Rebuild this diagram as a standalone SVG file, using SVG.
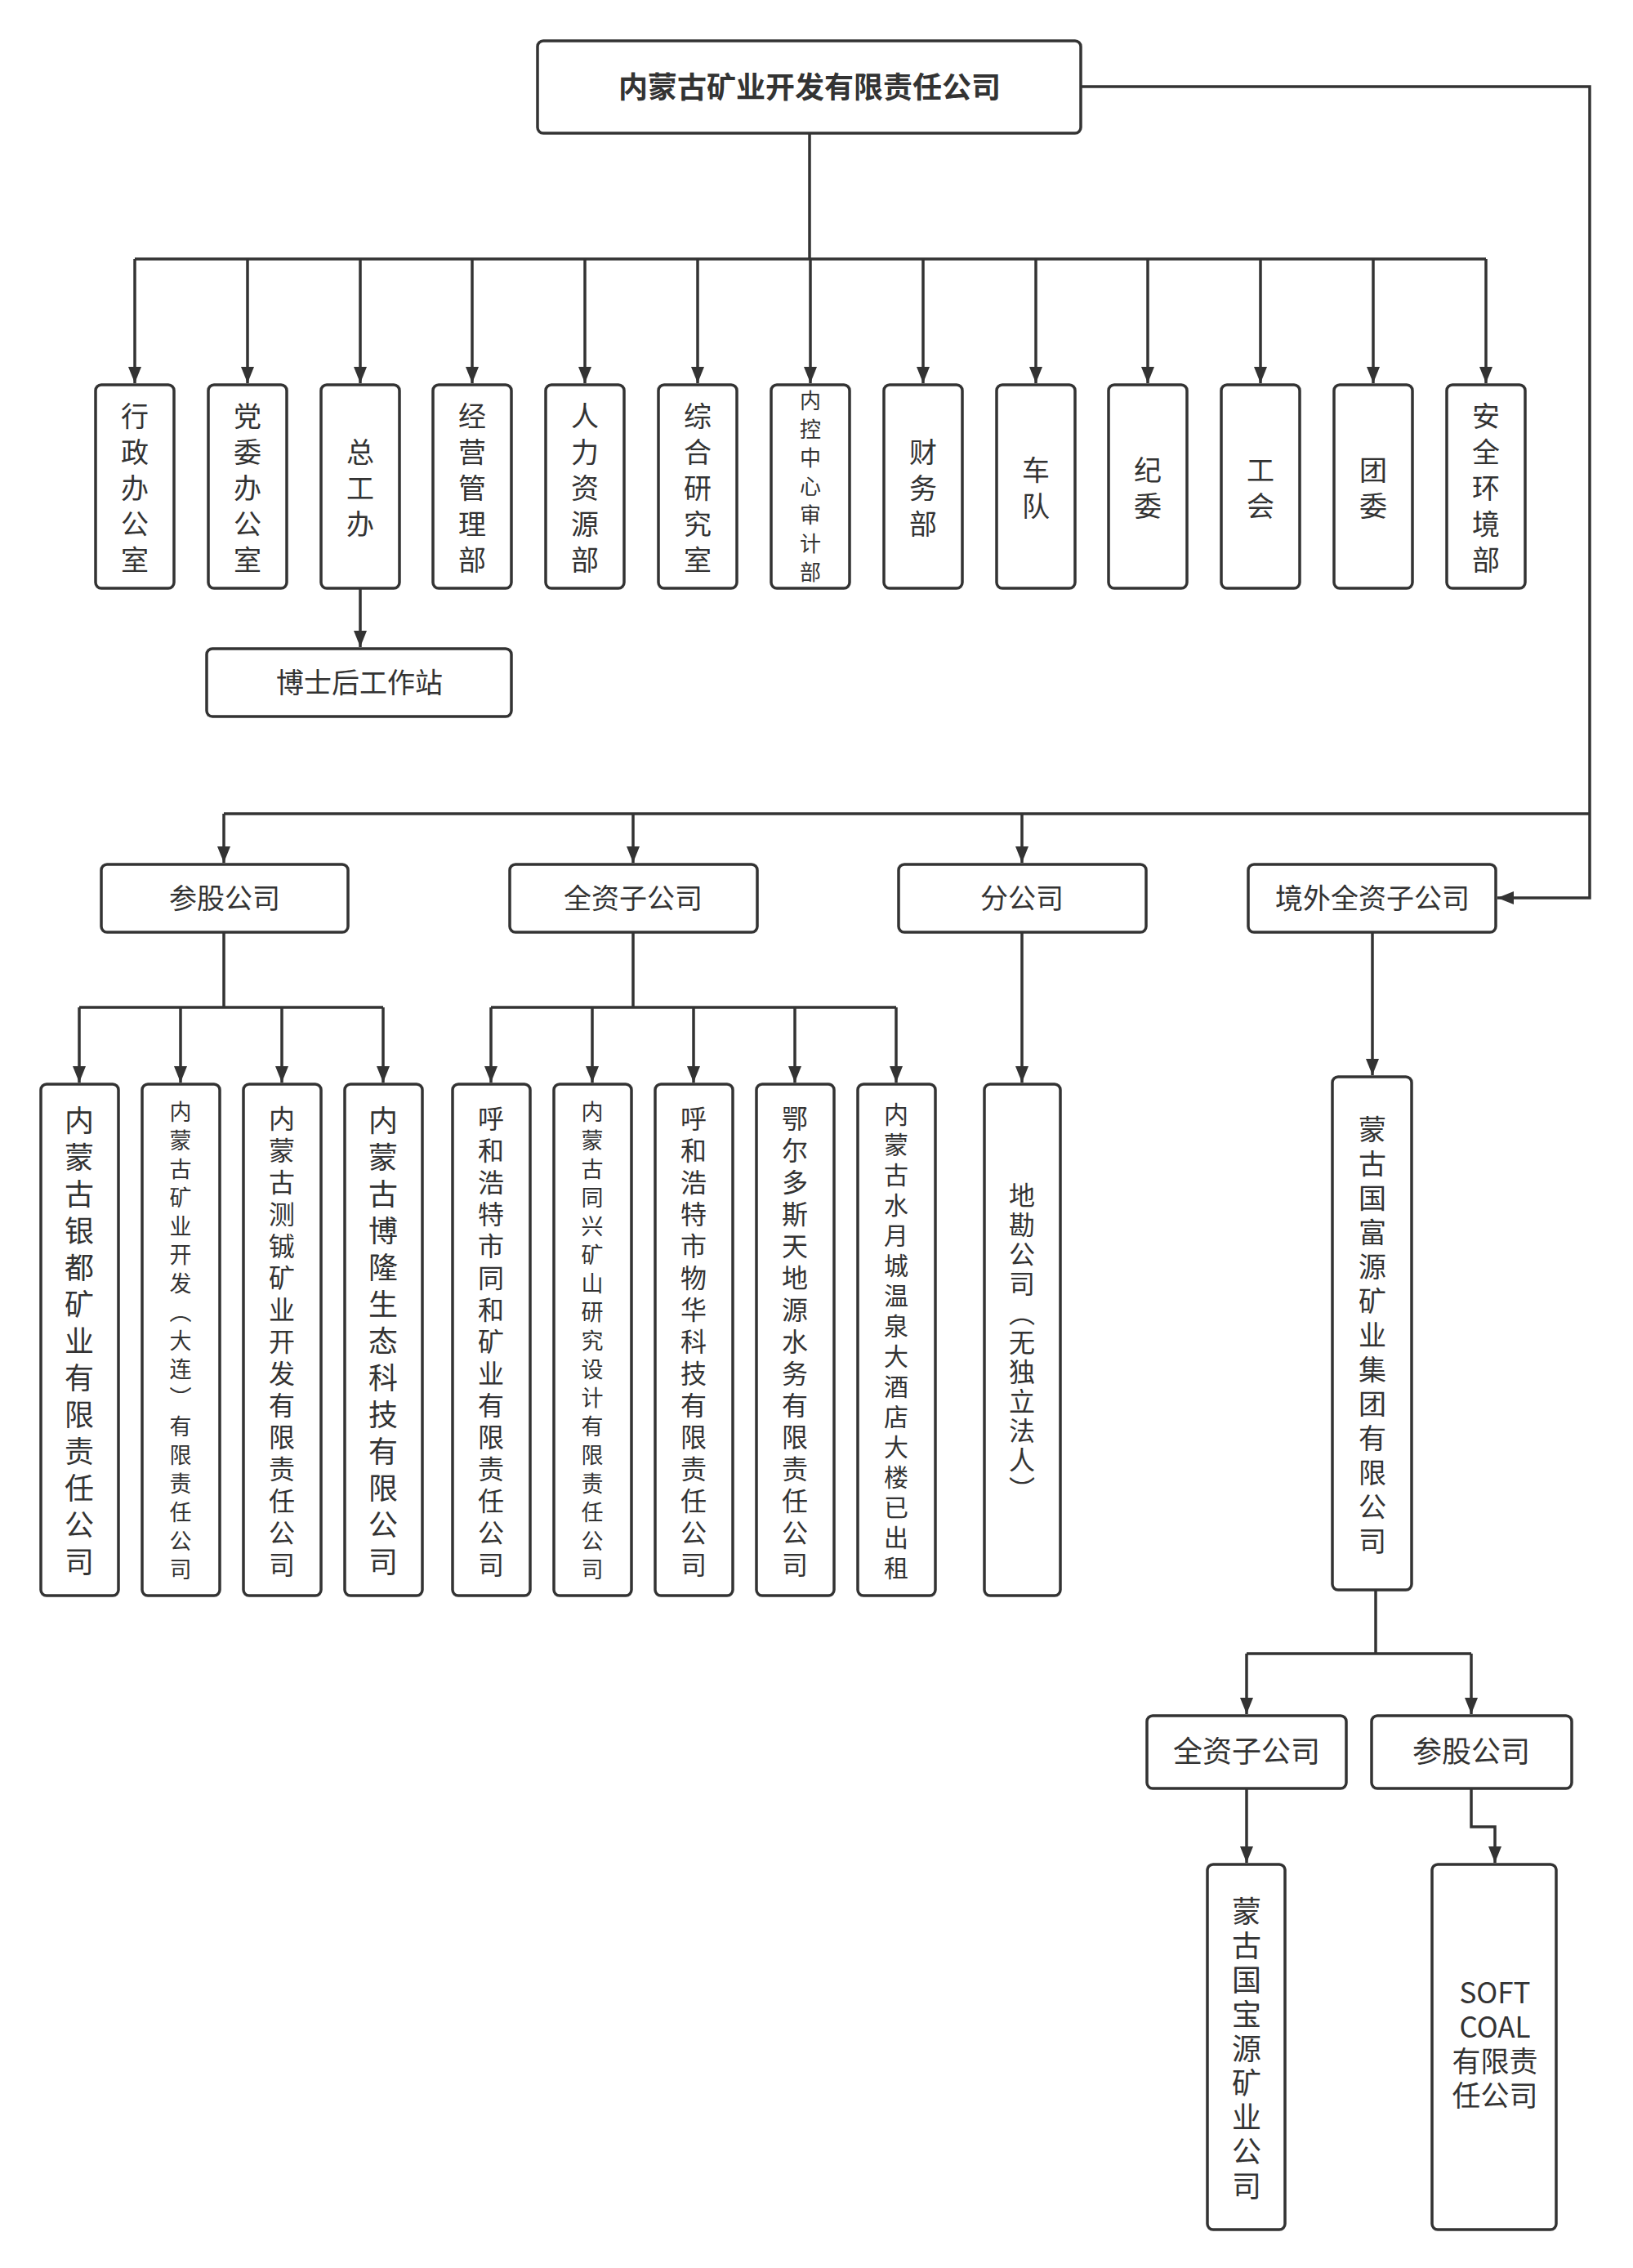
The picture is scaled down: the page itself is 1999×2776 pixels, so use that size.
<svg xmlns="http://www.w3.org/2000/svg" width="1999" height="2776" viewBox="0 0 1999 2776">
<style>
.b{fill:#fff;stroke:#333;stroke-width:3.5}
.t{font-family:"Noto Sans CJK SC","Noto Sans",sans-serif;fill:#333;text-anchor:middle}
.v{writing-mode:vertical-rl}
.c{fill:none;stroke:#333;stroke-width:3.5}
.r{fill:none;stroke:#333;stroke-width:3.5;marker-end:url(#m)}
</style>
<defs>
<marker id="m" viewBox="0 0 10 10" refX="10" refY="5" markerWidth="20" markerHeight="20" orient="auto" markerUnits="userSpaceOnUse"><path d="M0,1L10,5L0,9z" fill="#333"/></marker></defs>
<g id="connectors">
<path class="r" d="M1323,106H1946V1099H1833"/>
<path class="c" d="M991,163V317"/>
<path class="c" d="M165,317H1819"/>
<path class="r" d="M165,317V469"/><path class="r" d="M303,317V469"/><path class="r" d="M441,317V469"/><path class="r" d="M578,317V469"/><path class="r" d="M716,317V469"/><path class="r" d="M854,317V469"/><path class="r" d="M992,317V469"/><path class="r" d="M1130,317V469"/><path class="r" d="M1268,317V469"/><path class="r" d="M1405,317V469"/><path class="r" d="M1543,317V469"/><path class="r" d="M1681,317V469"/><path class="r" d="M1819,317V469"/>
<path class="r" d="M441,720V792"/>
<path class="c" d="M1946,996H274"/>
<path class="r" d="M274,996V1056"/><path class="r" d="M775,996V1056"/><path class="r" d="M1251,996V1056"/>
<path class="c" d="M274,1141V1233M97,1233H469M775,1141V1233M601,1233H1097"/>
<path class="r" d="M97,1233V1325"/><path class="r" d="M221,1233V1325"/><path class="r" d="M345,1233V1325"/><path class="r" d="M469,1233V1325"/><path class="r" d="M601,1233V1325"/><path class="r" d="M725,1233V1325"/><path class="r" d="M849,1233V1325"/><path class="r" d="M973,1233V1325"/><path class="r" d="M1097,1233V1325"/>
<path class="r" d="M1251,1141V1325"/>
<path class="r" d="M1680,1141V1316"/>
<path class="c" d="M1684,1946V2024M1526,2024H1801"/>
<path class="r" d="M1526,2024V2098"/><path class="r" d="M1801,2024V2098"/>
<path class="r" d="M1526,2189V2280"/>
<path class="r" d="M1801,2189V2236H1830V2280"/>
</g>
<g id="root"><rect class="b" x="658" y="50" width="665" height="113" rx="7"/><text class="t" x="991" y="120" font-size="36" font-weight="bold">内蒙古矿业开发有限责任公司</text></g>
<g id="d1"><rect class="b" x="117" y="471" width="96" height="249" rx="7"/><text class="t v" x="165" y="602" font-size="34" letter-spacing="10">行政办公室</text></g>
<g id="d2"><rect class="b" x="255" y="471" width="96" height="249" rx="7"/><text class="t v" x="303" y="602" font-size="34" letter-spacing="10">党委办公室</text></g>
<g id="d3"><rect class="b" x="393" y="471" width="96" height="249" rx="7"/><text class="t v" x="441" y="602" font-size="34" letter-spacing="10">总工办</text></g>
<g id="d4"><rect class="b" x="530" y="471" width="96" height="249" rx="7"/><text class="t v" x="578" y="602" font-size="34" letter-spacing="10">经营管理部</text></g>
<g id="d5"><rect class="b" x="668" y="471" width="96" height="249" rx="7"/><text class="t v" x="716" y="602" font-size="34" letter-spacing="10">人力资源部</text></g>
<g id="d6"><rect class="b" x="806" y="471" width="96" height="249" rx="7"/><text class="t v" x="854" y="602" font-size="34" letter-spacing="10">综合研究室</text></g>
<g id="d7"><rect class="b" x="944" y="471" width="96" height="249" rx="7"/><text class="t v" x="992" y="600" font-size="26" letter-spacing="9">内控中心审计部</text></g>
<g id="d8"><rect class="b" x="1082" y="471" width="96" height="249" rx="7"/><text class="t v" x="1130" y="602" font-size="34" letter-spacing="10">财务部</text></g>
<g id="d9"><rect class="b" x="1220" y="471" width="96" height="249" rx="7"/><text class="t v" x="1268" y="602" font-size="34" letter-spacing="10">车队</text></g>
<g id="d10"><rect class="b" x="1357" y="471" width="96" height="249" rx="7"/><text class="t v" x="1405" y="602" font-size="34" letter-spacing="10">纪委</text></g>
<g id="d11"><rect class="b" x="1495" y="471" width="96" height="249" rx="7"/><text class="t v" x="1543" y="602" font-size="34" letter-spacing="10">工会</text></g>
<g id="d12"><rect class="b" x="1633" y="471" width="96" height="249" rx="7"/><text class="t v" x="1681" y="602" font-size="34" letter-spacing="10">团委</text></g>
<g id="d13"><rect class="b" x="1771" y="471" width="96" height="249" rx="7"/><text class="t v" x="1819" y="602" font-size="34" letter-spacing="10">安全环境部</text></g>
<g id="postdoc"><rect class="b" x="253" y="794" width="373" height="83" rx="7"/><text class="t" x="440" y="848" font-size="34">博士后工作站</text></g>
<g id="g1"><rect class="b" x="124" y="1058" width="302" height="83" rx="7"/><text class="t" x="275" y="1112" font-size="34">参股公司</text></g>
<g id="g2"><rect class="b" x="624" y="1058" width="303" height="83" rx="7"/><text class="t" x="775" y="1112" font-size="34">全资子公司</text></g>
<g id="g3"><rect class="b" x="1100" y="1058" width="303" height="83" rx="7"/><text class="t" x="1251" y="1112" font-size="34">分公司</text></g>
<g id="g4"><rect class="b" x="1528" y="1058" width="303" height="83" rx="7"/><text class="t" x="1680" y="1112" font-size="34">境外全资子公司</text></g>
<g id="s1"><rect class="b" x="50" y="1327" width="95" height="626" rx="7"/><text class="t v" x="97" y="1646" font-size="36" letter-spacing="9">内蒙古银都矿业有限责任公司</text></g>
<g id="s2"><rect class="b" x="174" y="1327" width="95" height="626" rx="7"/><text class="t v" x="221" y="1645" font-size="27" letter-spacing="8">内蒙古矿业开发（大连）有限责任公司</text></g>
<g id="s3"><rect class="b" x="298" y="1327" width="95" height="626" rx="7"/><text class="t v" x="345" y="1645" font-size="32" letter-spacing="7">内蒙古测铖矿业开发有限责任公司</text></g>
<g id="s4"><rect class="b" x="422" y="1327" width="95" height="626" rx="7"/><text class="t v" x="469" y="1646" font-size="36" letter-spacing="9">内蒙古博隆生态科技有限公司</text></g>
<g id="s5"><rect class="b" x="554" y="1327" width="95" height="626" rx="7"/><text class="t v" x="601" y="1645" font-size="32" letter-spacing="7">呼和浩特市同和矿业有限责任公司</text></g>
<g id="s6"><rect class="b" x="678" y="1327" width="95" height="626" rx="7"/><text class="t v" x="725" y="1645" font-size="27" letter-spacing="8">内蒙古同兴矿山研究设计有限责任公司</text></g>
<g id="s7"><rect class="b" x="802" y="1327" width="95" height="626" rx="7"/><text class="t v" x="849" y="1645" font-size="32" letter-spacing="7">呼和浩特市物华科技有限责任公司</text></g>
<g id="s8"><rect class="b" x="926" y="1327" width="95" height="626" rx="7"/><text class="t v" x="973" y="1645" font-size="32" letter-spacing="7">鄂尔多斯天地源水务有限责任公司</text></g>
<g id="s9"><rect class="b" x="1050" y="1327" width="95" height="626" rx="7"/><text class="t v" x="1097" y="1645" font-size="30" letter-spacing="7">内蒙古水月城温泉大酒店大楼已出租</text></g>
<g id="s10"><rect class="b" x="1205" y="1327" width="93" height="626" rx="7"/><text class="t v" x="1251" y="1645" font-size="32" letter-spacing="4">地勘公司（无独立法人）</text></g>
<g id="s11"><rect class="b" x="1631" y="1318" width="97" height="628" rx="7"/><text class="t v" x="1680" y="1638" font-size="34" letter-spacing="8">蒙古国富源矿业集团有限公司</text></g>
<g id="h1"><rect class="b" x="1404" y="2100" width="244" height="89" rx="7"/><text class="t" x="1526" y="2157" font-size="36">全资子公司</text></g>
<g id="h2"><rect class="b" x="1679" y="2100" width="245" height="89" rx="7"/><text class="t" x="1801" y="2157" font-size="36">参股公司</text></g>
<g id="k1"><rect class="b" x="1478" y="2282" width="95" height="447" rx="7"/><text class="t v" x="1526" y="2510" font-size="36" letter-spacing="6">蒙古国宝源矿业公司</text></g>
<g id="k2"><rect class="b" x="1753" y="2282" width="152" height="447" rx="7"/><text class="t" x="1830" y="2452" font-size="35"><tspan x="1830">SOFT</tspan><tspan x="1830" dy="42">COAL</tspan><tspan x="1830" dy="42">有限责</tspan><tspan x="1830" dy="42">任公司</tspan></text></g>
</svg>
